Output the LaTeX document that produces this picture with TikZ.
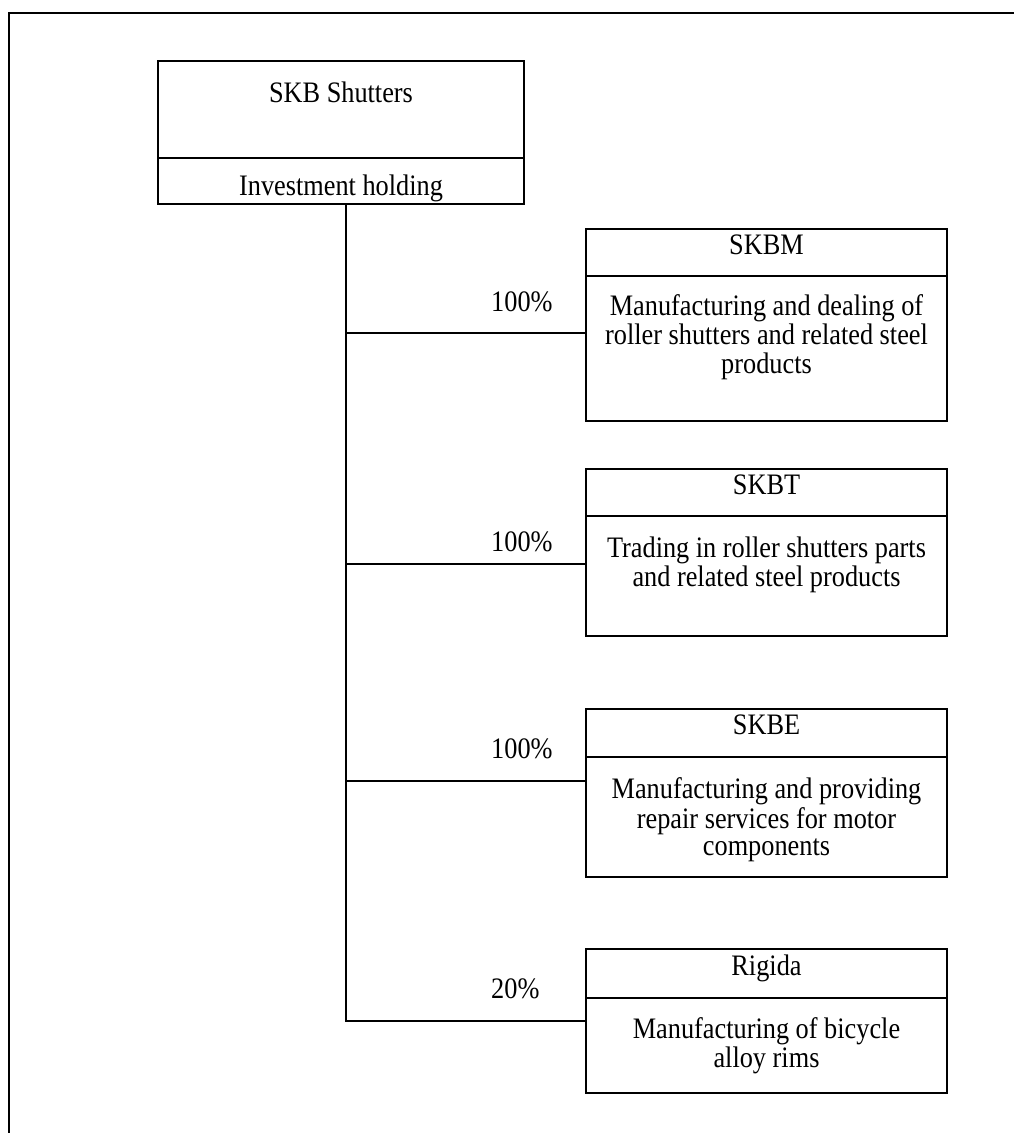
\documentclass[tikz,border=0pt]{standalone}
\usepackage{fontspec}
\setmainfont{Liberation Serif}
\newcommand{\tallt}[1]{\scalebox{1}[1.13]{\begin{tabular}{@{}c@{}}#1\end{tabular}}}
\begin{document}
\begin{tikzpicture}[x=1pt,y=-1pt,
  every node/.style={font=\fontsize{26.3}{24.5}\selectfont, inner sep=0pt},
  ln/.style={line width=1.6pt, draw=black},
  orgbox/.style={draw=black, line width=1.6pt, minimum width=361pt},
  pct/.style={anchor=west},
  body/.style={align=center}
]
\fill[white] (0,0) rectangle (1014,1133);
\useasboundingbox (0,0) rectangle (1014,1133);

% outer frame (cropped)
\coordinate (fb) at (9,1133);
\coordinate (fc) at (9,13);
\coordinate (fr) at (1014,13);
\draw[ln] (fb) -- (fc) -- (fr);

% top box
\node[orgbox, minimum width=366pt, minimum height=143pt] (top) at (341,132.5) {};
\draw[ln] (top.west |- 0,158) -- (top.east |- 0,158);
\node (toph) at (341,96) {\tallt{SKB Shutters}};
\node (topb) at (341,189) {\tallt{Investment holding}};

% subsidiaries
\node[orgbox, minimum height=192pt] (skbm) at (766.5,325) {};
\draw[ln] (skbm.west |- 0,276) -- (skbm.east |- 0,276);
\node (skbmh) at (766.5,249) {\tallt{SKBM}};
\node (skbmb) at (766.5,338) {\tallt{Manufacturing and dealing of\\roller shutters and related steel\\products}};

\node[orgbox, minimum height=167pt] (skbt) at (766.5,552.5) {};
\draw[ln] (skbt.west |- 0,516) -- (skbt.east |- 0,516);
\node (skbth) at (766.5,489) {\tallt{SKBT}};
\node (skbtb) at (766.5,566) {\tallt{Trading in roller shutters parts\\and related steel products}};

\node[orgbox, minimum height=168pt] (skbe) at (766.5,793) {};
\draw[ln] (skbe.west |- 0,757) -- (skbe.east |- 0,757);
\node (skbeh) at (766.5,729) {\tallt{SKBE}};
\node (skbeb) at (766.5,821) {\tallt{Manufacturing and providing\\repair services for motor\\components}};

\node[orgbox, minimum height=144pt] (rig) at (766.5,1021) {};
\draw[ln] (rig.west |- 0,998) -- (rig.east |- 0,998);
\node (righ) at (766.5,969) {\tallt{Rigida}};
\node (rigb) at (766.5,1047) {\tallt{Manufacturing of bicycle\\alloy rims}};

% connectors
\coordinate (t0) at (346,204);
\coordinate (bm) at (346,333);
\coordinate (bt) at (346,564);
\coordinate (be) at (346,781);
\coordinate (br) at (346,1021);
\draw[ln] (t0) -- (br) -- (rig.west);
\draw[ln] (bm) -- (bm -| skbm.west);
\draw[ln] (bt) -- (bt -| skbt.west);
\draw[ln] (be) -- (be -| skbe.west);

% percentages
\node[pct] (pm) at (491,306) {\tallt{100\%}};
\node[pct] (pt) at (491,546) {\tallt{100\%}};
\node[pct] (pe) at (491,753) {\tallt{100\%}};
\node[pct] (pr) at (491,993) {\tallt{20\%}};
\end{tikzpicture}
\end{document}
